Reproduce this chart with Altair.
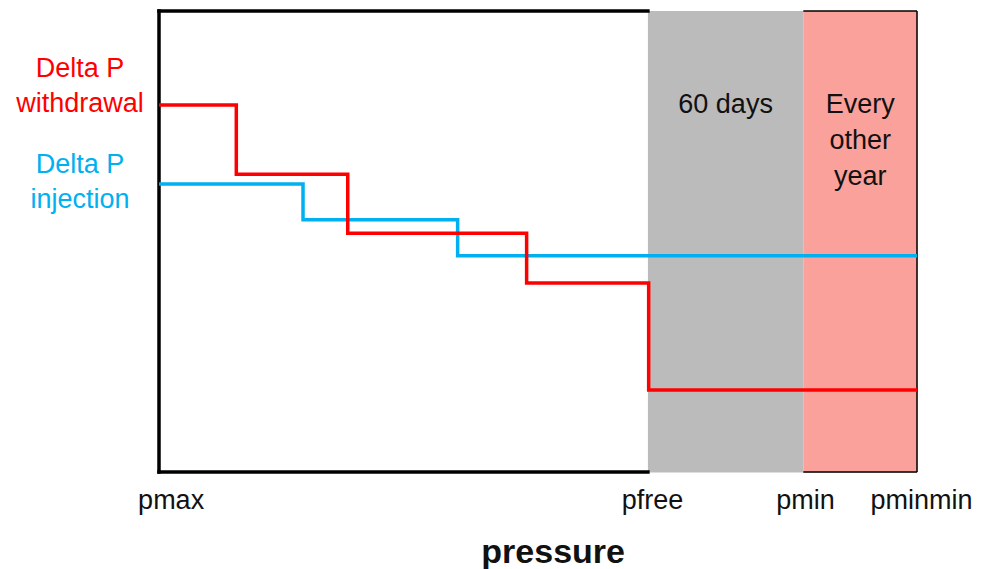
import altair as alt
import pandas as pd

# ---- data ----
red_x = [0, 10.2, 24.9, 48.5, 64.6, 100]
red_y = [79.6, 64.6, 51.8, 41.0, 17.8, 17.8]
blue_x = [0, 19.0, 39.4, 100]
blue_y = [62.5, 54.7, 46.9, 46.9]

band_start = [64.5, 85.0]
band_end = [85.0, 100.0]
band_labels = ["60 days", "Every\nother\nyear"]
band_colors = ["#BBBBBB", "#F9A19A"]

tick_labels = ["pmax", "pfree", "pmin", "pminmin"]
tick_label_pos = [1.6, 65.1, 85.3, 100.6]

series_names = ["Delta P\nwithdrawal", "Delta P\ninjection"]
series_colors = ["#FF0000", "#00B0F0"]

FONT = "Liberation Sans"

xs = alt.Scale(domain=[0, 100], nice=False, zero=False)
ys = alt.Scale(domain=[0, 100], nice=False, zero=False)

red_df = pd.DataFrame({"x": red_x, "y": red_y})
blue_df = pd.DataFrame({"x": blue_x, "y": blue_y})
band_df = pd.DataFrame({"x": band_start, "x2": band_end, "label": band_labels,
                        "mid": [(a + b) / 2 for a, b in zip(band_start, band_end)],
                        "color": band_colors})
tick_df = pd.DataFrame({"x": tick_label_pos, "label": tick_labels})

bands = alt.Chart(band_df).mark_rect().encode(
    x=alt.X("x:Q", scale=xs, axis=None),
    x2="x2:Q",
    y=alt.value(0),
    y2=alt.value(461),
    color=alt.Color("color:N", scale=None),
)

band_text = alt.Chart(band_df).mark_text(
    font=FONT, fontSize=27, color="#111111", lineBreak="\n", lineHeight=36,
    baseline="alphabetic", align="center"
).encode(
    x=alt.X("mid:Q", scale=xs, axis=None),
    y=alt.value(102),
    text="label:N",
)

thick_h = pd.DataFrame({"x": [0, 0], "x2": [band_start[0], band_start[0]], "y": [0, 100]})
thick_v = pd.DataFrame({"x": [0], "y": [0], "y2": [100]})
thin_h = pd.DataFrame({"x": [band_start[1], band_start[1]], "x2": [100, 100], "y": [0, 100]})
thin_v = pd.DataFrame({"x": [100], "y": [0], "y2": [100]})

frame_thick_h = alt.Chart(thick_h).mark_rule(color="black", strokeWidth=3.5, strokeCap="square").encode(
    x=alt.X("x:Q", scale=xs, axis=None), x2="x2:Q", y=alt.Y("y:Q", scale=ys, axis=None))
frame_thick_v = alt.Chart(thick_v).mark_rule(color="black", strokeWidth=3.5, strokeCap="square").encode(
    x=alt.X("x:Q", scale=xs, axis=None), y=alt.Y("y:Q", scale=ys, axis=None), y2="y2:Q")
frame_thin_h = alt.Chart(thin_h).mark_rule(color="black", strokeWidth=1.3).encode(
    x=alt.X("x:Q", scale=xs, axis=None), x2="x2:Q", y=alt.Y("y:Q", scale=ys, axis=None))
frame_thin_v = alt.Chart(thin_v).mark_rule(color="black", strokeWidth=1.5).encode(
    x=alt.X("x:Q", scale=xs, axis=None), y=alt.Y("y:Q", scale=ys, axis=None), y2="y2:Q")

red_line = alt.Chart(red_df).mark_line(color=series_colors[0], strokeWidth=3.5,
                                       interpolate="step-after").encode(
    x=alt.X("x:Q", scale=xs, axis=None), y=alt.Y("y:Q", scale=ys, axis=None))
blue_line = alt.Chart(blue_df).mark_line(color=series_colors[1], strokeWidth=3.5,
                                         interpolate="step-after").encode(
    x=alt.X("x:Q", scale=xs, axis=None), y=alt.Y("y:Q", scale=ys, axis=None))

red_label = alt.Chart(pd.DataFrame({"x": [red_x[0]], "y": [red_y[0]], "t": [series_names[0]]})).mark_text(
    font=FONT, fontSize=27, color=series_colors[0], lineBreak="\n", lineHeight=35,
    align="center", baseline="alphabetic", dx=-79, dy=-28
).encode(x=alt.X("x:Q", scale=xs, axis=None), y=alt.Y("y:Q", scale=ys, axis=None), text="t:N")

blue_label = alt.Chart(pd.DataFrame({"x": [blue_x[0]], "y": [blue_y[0]], "t": [series_names[1]]})).mark_text(
    font=FONT, fontSize=27, color=series_colors[1], lineBreak="\n", lineHeight=35,
    align="center", baseline="alphabetic", dx=-79, dy=-11
).encode(x=alt.X("x:Q", scale=xs, axis=None), y=alt.Y("y:Q", scale=ys, axis=None), text="t:N")

tick_text = alt.Chart(tick_df).mark_text(
    font=FONT, fontSize=27, color="#111111", align="center", baseline="alphabetic"
).encode(x=alt.X("x:Q", scale=xs, axis=None), y=alt.value(498), text="label:N")

title_text = alt.Chart(pd.DataFrame({"x": [52.0], "t": ["pressure"]})).mark_text(
    font=FONT, fontSize=34, fontWeight="bold", color="#111111", align="center", baseline="alphabetic"
).encode(x=alt.X("x:Q", scale=xs, axis=None), y=alt.value(552), text="t:N")

chart = alt.layer(
    bands, frame_thick_h, frame_thick_v, frame_thin_h, frame_thin_v,
    blue_line, red_line, band_text, red_label, blue_label, tick_text, title_text
).properties(
    width=758, height=461,
    padding={"left": 151, "top": 3, "right": 56, "bottom": 97},
    autosize=alt.AutoSizeParams(type="none"),
).configure_view(stroke=None).configure(background="white")

chart.save("out.html", embed_options={"renderer": "svg", "actions": False})
